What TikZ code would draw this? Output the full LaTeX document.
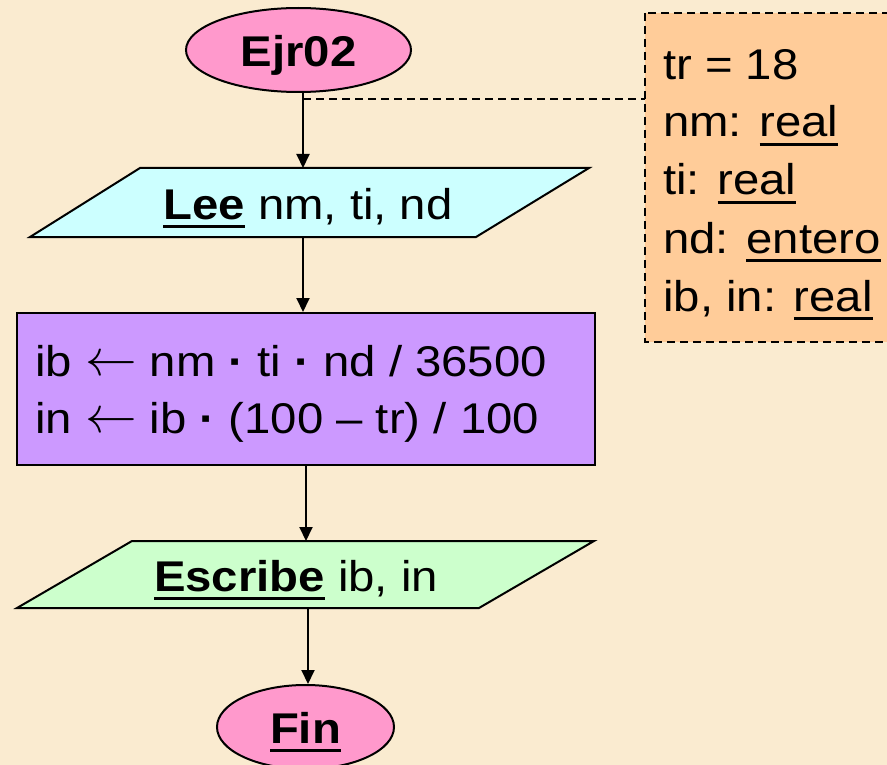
\RequirePackage{fix-cm}
\documentclass[tikz,border=0pt]{standalone}
\usepackage{fontspec}
\setmainfont{Liberation Sans}[FakeStretch=1.1]
\usetikzlibrary{shapes.geometric,arrows.meta}
\definecolor{bgc}{RGB}{250,235,208}
\definecolor{pinkc}{RGB}{255,153,204}
\definecolor{cyanc}{RGB}{204,255,255}
\definecolor{purc}{RGB}{204,153,255}
\definecolor{grnc}{RGB}{204,255,204}
\definecolor{orc}{RGB}{255,204,153}
\newcommand\ulin[1]{\setbox0\hbox{#1}\rlap{\rule[-9pt]{\wd0}{3.2pt}}\box0\relax}
\newcommand\mdot{\textbf{·}}
\newcommand\larr{\raisebox{1pt}{\scalebox{1.2}{$\leftarrow$}}}
\newcommand\down[1]{\raisebox{-5pt}[\height][\depth]{#1}}
\tikzset{
  base/.style={draw=black, line width=2pt},
  term/.style={base, ellipse, fill=pinkc, inner sep=0pt, font=\fontsize{43}{57}\selectfont\bfseries},
  arr/.style={line width=2pt, -{Triangle[width=13pt,length=14pt]}},
  dsh/.style={line width=1.6pt, dash pattern=on 8pt off 5pt},
  txt/.style={inner sep=0pt}
}
\begin{document}
\begin{tikzpicture}[x=1pt,y=-1pt,font=\fontsize{43}{57}\selectfont]
\useasboundingbox (0,0) rectangle (887,765);
\fill[bgc] (0,0) rectangle (887,765);
\clip (0,0) rectangle (887,765);

% note box
\draw[dsh, fill=orc] (645,13) rectangle (900,342);
\coordinate (notew) at (645,99);
\node[txt, anchor=base west] (n1) at (663,80) {tr = 18};
\node[txt, anchor=base west] (n2) at (663,137) {nm: \ulin{real}};
\node[txt, anchor=base west] (n3) at (663,195) {ti: \ulin{real}};
\node[txt, anchor=base west] (n4) at (663,253) {nd: \ulin{entero}};
\node[txt, anchor=base west] (n5) at (663,311) {ib, in: \ulin{real}};

% start
\node[term, minimum width=225pt, minimum height=84pt] (start) at (298.5,50) {\down{Ejr02}};

% read
\filldraw[base, fill=cyanc] (140,168) -- (589,168) -- (476,237) -- (30,237) -- cycle;
\node[txt] (lee) at (308,208) {\ulin{\bfseries Lee} nm, ti, nd};
\coordinate (leeT) at (303,168);
\coordinate (leeB) at (303,237);

% process
\node[base, fill=purc, minimum width=578pt, minimum height=152pt] (proc) at (305.5,389) {};
\node[txt, anchor=west, align=left] (procT) at (35,394)
  {ib \larr\ nm \mdot\ ti \mdot\ nd / 36500\\in \larr\ ib \mdot\ (100 – tr) / 100};

% write
\filldraw[base, fill=grnc] (132,541) -- (594,541) -- (479,608) -- (17,608) -- cycle;
\node[txt] (esc) at (296,580) {\ulin{\bfseries Escribe} ib, in};
\coordinate (escT) at (306,541);
\coordinate (escB) at (308,608);

% end
\node[term, minimum width=177pt, minimum height=84pt] (fin) at (305.5,727) {\down{\ulin{Fin}}};

% connectors
\coordinate (d1) at (303,99);
\draw[dsh] (d1) -- (notew);
\draw[arr] (start.south -| leeT) -- (leeT);
\draw[arr] (leeB) -- (proc.north -| leeB);
\draw[arr] (proc.south -| escT) -- (escT);
\draw[arr] (escB) -- (fin.north -| escB);
\end{tikzpicture}
\end{document}
